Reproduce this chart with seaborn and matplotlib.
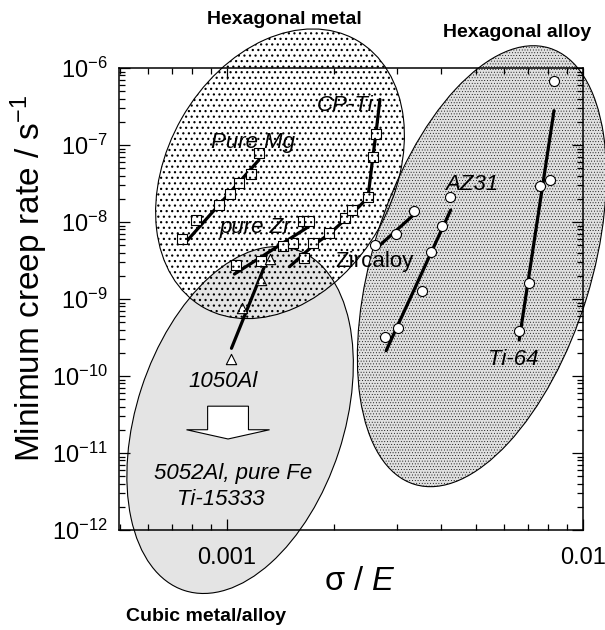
import numpy as np
import pandas as pd
import matplotlib
matplotlib.use("Agg")
import matplotlib.pyplot as plt
import matplotlib.patches as mpatches
import matplotlib.ticker as mticker
import seaborn as sns

# ---------------- data ----------------
mg_x = [0.000746, 0.000818, 0.000948, 0.00102, 0.00108, 0.00117, 0.00123]
mg_y = [6.0e-9, 1.05e-8, 1.68e-8, 2.31e-8, 3.18e-8, 4.16e-8, 7.83e-8]
mg_fit_x = [0.000762, 0.00123]
mg_fit_y = [5.3e-9, 6.4e-8]

zr_x = [0.00106, 0.00125, 0.00144, 0.00153, 0.00164, 0.00170]
zr_y = [2.77e-9, 3.12e-9, 4.88e-9, 5.29e-9, 1.03e-8, 1.03e-8]
zr_fit_x = [0.00105, 0.00169]
zr_fit_y = [2.11e-9, 8.6e-9]

cpti_x = [0.00165, 0.00175, 0.00194, 0.00215, 0.00225, 0.00249, 0.00257, 0.00262]
cpti_y = [3.44e-9, 5.29e-9, 7.26e-9, 1.13e-8, 1.42e-8, 2.09e-8, 7.05e-8, 1.38e-7]
cpti_fit_x = [0.00150, 0.00175, 0.00194, 0.00215, 0.00234, 0.00249, 0.00257, 0.00262, 0.00269]
cpti_fit_y = [2.63e-9, 5.0e-9, 7.0e-9, 1.08e-8, 1.55e-8, 2.09e-8, 7.05e-8, 1.38e-7, 3.9e-7]

zircaloy_x = [0.00260, 0.00298, 0.00336]
zircaloy_y = [5.03e-9, 6.92e-9, 1.40e-8]
zircaloy_fit_x = [0.00266, 0.00334]
zircaloy_fit_y = [4.78e-9, 1.23e-8]

az31_x = [0.00278, 0.00303, 0.00352, 0.00375, 0.00402, 0.00424]
az31_y = [3.24e-10, 4.2e-10, 1.27e-9, 4.05e-9, 8.95e-9, 2.09e-8]
az31_fit_x = [0.00280, 0.00425]
az31_fit_y = [2.13e-10, 1.43e-8]

ti64_x = [0.00662, 0.00706, 0.00757, 0.00808, 0.00829]
ti64_y = [3.87e-10, 1.6e-9, 2.94e-8, 3.51e-8, 6.78e-7]
ti64_fit_x = [0.00662, 0.00829]
ti64_fit_y = [2.94e-10, 2.79e-7]

al1050_x = [0.00103, 0.00110, 0.00125, 0.00132]
al1050_y = [1.64e-10, 7.6e-10, 1.77e-9, 3.28e-9]
al1050_fit_x = [0.00103, 0.00129]
al1050_fit_y = [2.29e-10, 3.03e-9]

xtick_values = [0.001, 0.01]
xtick_labels = ["0.001", "0.01"]
ytick_values = [1e-12, 1e-11, 1e-10, 1e-9, 1e-8, 1e-7, 1e-6]
ytick_labels = ["$10^{-12}$", "$10^{-11}$", "$10^{-10}$", "$10^{-9}$",
                "$10^{-8}$", "$10^{-7}$", "$10^{-6}$"]

# ---------------- style ----------------
sns.set_style("ticks")
plt.rcParams["font.family"] = ["Liberation Sans", "DejaVu Sans"]
plt.rcParams["mathtext.fontset"] = "custom"
plt.rcParams["mathtext.rm"] = "Liberation Sans"
plt.rcParams["mathtext.it"] = "Liberation Sans:italic"
plt.rcParams["mathtext.bf"] = "Liberation Sans:bold"
plt.rcParams["axes.axisbelow"] = False
plt.rcParams["text.color"] = "black"
plt.rcParams["axes.labelcolor"] = "black"
plt.rcParams["xtick.color"] = "black"
plt.rcParams["ytick.color"] = "black"
plt.rcParams["xtick.labelcolor"] = "black"
plt.rcParams["ytick.labelcolor"] = "black"
plt.rcParams["hatch.linewidth"] = 0.85

W, H = 605, 630
fig = plt.figure(figsize=(W / 100, H / 100), dpi=100)
L, R, T, B = 119, 583, 68, 530
ax = fig.add_axes([L / W, 1 - B / H, (R - L) / W, (B - T) / H])
ax.set_xscale("log")
ax.set_yscale("log")
ax.set_xlim(10 ** -3.303, 0.01)
ax.set_ylim(1e-12, 1e-6)

# ---------------- region ellipses (axes-fraction coords) ----------------
cubic = mpatches.Ellipse((0.261, 0.238), 0.776, 0.447, angle=72.0,
                         transform=ax.transAxes, facecolor="#e4e4e4",
                         edgecolor="black", lw=0.8, clip_on=False, zorder=0.6)
ax.add_patch(cubic)

hex_alloy = mpatches.Ellipse((0.782, 0.571), 0.988, 0.472, angle=72.9,
                             transform=ax.transAxes, facecolor="#e0e0e0",
                             edgecolor="black", lw=0.8, hatch="......",
                             clip_on=False, zorder=0.7)
if hasattr(hex_alloy, "set_hatch_linewidth"):
    hex_alloy.set_hatch_linewidth(0.3)
ax.add_patch(hex_alloy)

# ---------------- data ----------------
def fit(x, y):
    sns.lineplot(x=x, y=y, color="black", linewidth=2.3, sort=False,
                 estimator=None, ax=ax, zorder=2.6)

def pts(x, y, marker, size):
    sns.scatterplot(x=x, y=y, marker=marker, s=size, color="white",
                    edgecolor="black", linewidth=0.8, ax=ax, zorder=2.7,
                    legend=False)

fit(mg_fit_x, mg_fit_y); pts(mg_x, mg_y, "s", 42)
fit(zr_fit_x, zr_fit_y); pts(zr_x, zr_y, "s", 42)
fit(cpti_fit_x, cpti_fit_y); pts(cpti_x, cpti_y, "s", 42)
fit(al1050_fit_x, al1050_fit_y); pts(al1050_x, al1050_y, "^", 55)
fit(zircaloy_fit_x, zircaloy_fit_y); pts(zircaloy_x, zircaloy_y, "o", 52)
fit(az31_fit_x, az31_fit_y); pts(az31_x, az31_y, "o", 52)
fit(ti64_fit_x, ti64_fit_y); pts(ti64_x, ti64_y, "o", 52)

hex_metal = mpatches.Ellipse((0.347, 0.771), 0.666, 0.487, angle=60.4,
                             transform=ax.transAxes, facecolor="none",
                             edgecolor="black", lw=0.8, hatch="...",
                             clip_on=False, zorder=4)
if hasattr(hex_metal, "set_hatch_linewidth"):
    hex_metal.set_hatch_linewidth(0.85)
ax.add_patch(hex_metal)

# hollow arrow
arrow = mpatches.FancyArrow(0.235, 0.268, 0, -0.071, width=0.088,
                            head_width=0.179, head_length=0.02,
                            length_includes_head=True, transform=ax.transAxes,
                            facecolor="white", edgecolor="black", lw=0.8,
                            zorder=3)
ax.add_patch(arrow)

# ---------------- axes ----------------
ax.set_xticks(xtick_values)
ax.set_xticklabels(xtick_labels)
ax.set_yticks(ytick_values)
ax.set_yticklabels(ytick_labels)
ax.xaxis.set_minor_locator(mticker.LogLocator(base=10, subs=np.arange(2, 10)))
ax.yaxis.set_minor_locator(mticker.LogLocator(base=10, subs=np.arange(2, 10), numticks=20))
ax.xaxis.set_minor_formatter(mticker.NullFormatter())
ax.yaxis.set_minor_formatter(mticker.NullFormatter())
ax.tick_params(which="both", direction="in", top=True, right=True,
               width=0.9, color="black", labelcolor="black")
ax.tick_params(which="major", length=8)
ax.tick_params(which="minor", length=4)
ax.tick_params(axis="x", which="major", labelsize=17, pad=12)
ax.tick_params(axis="y", which="major", labelsize=17, pad=8)
for s in ax.spines.values():
    s.set_visible(True)
    s.set_linewidth(1.1)
    s.set_color("black")

ax.set_xlabel(r"σ / $\mathit{E}$", fontsize=23.5, color="black")
ax.xaxis.set_label_coords(0.519, -0.078)
ax.set_ylabel(r"Minimum creep rate / s$^{-1}$", fontsize=24, color="black")
ax.yaxis.set_label_coords(-0.149, 0.545)

# ---------------- annotations (pixel positions from top-left) ----------------
def lab(x, y, s, size=16, style="italic", weight="normal"):
    fig.text(x / W, 1 - y / H, s, fontsize=size, style=style, color="black",
             fontweight=weight, ha="left", va="baseline", zorder=5)

lab(211, 148, "Pure Mg")
lab(317, 110.7, "CP-Ti")
lab(220, 233, "pure Zr")
lab(335, 266.7, "Zircaloy", style="normal")
lab(445, 190, "AZ31")
lab(488, 365, "Ti-64")
lab(188, 386.7, "1050Al")
lab(154, 479, "5052Al, pure Fe")
lab(177, 505, "Ti-15333")
lab(207, 24, "Hexagonal metal", size=14, style="normal", weight="bold")
lab(443, 37.3, "Hexagonal alloy", size=14, style="normal", weight="bold")
lab(126, 620.7, "Cubic metal/alloy", size=14, style="normal", weight="bold")

fig.savefig("out.png", dpi=100)
